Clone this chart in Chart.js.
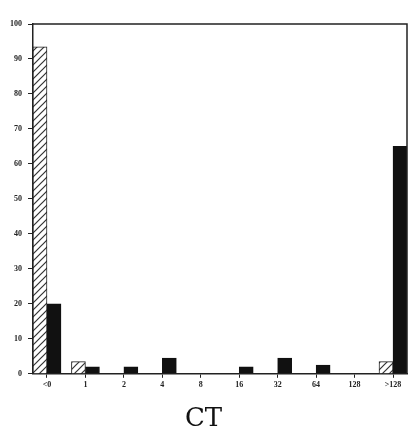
<!DOCTYPE html>
<html lang="en">
<head>
    <meta charset="UTF-8">
    <title>CT</title>
    <script src="https://cdn.jsdelivr.net/npm/chart.js"></script>
    <style>
        html, body { margin: 0; padding: 0; background: #fff; }
        .wrap { width: 417px; height: 437px; position: relative; }
    </style>
</head>
<body>
    <div class="wrap"><canvas id="ctChart"></canvas></div>

    <script>
        // datos
        const categories = ['<0', '1', '2', '4', '8', '16', '32', '64', '128', '>128'];
        const hatchedValues = [93.5, 3.5, 0, 0, 0, 0, 0, 0, 0, 3.5];
        const solidValues = [20, 2, 2, 4.5, 0, 2, 4.5, 2.5, 0, 65];
        const yTicks = [0, 10, 20, 30, 40, 50, 60, 70, 80, 90, 100];

        // patron rayado para la primera serie
        function makeHatch() {
            const c = document.createElement('canvas');
            c.width = 7;
            c.height = 7;
            const g = c.getContext('2d');
            g.fillStyle = '#fff';
            g.fillRect(0, 0, 7, 7);
            g.strokeStyle = '#333';
            g.lineWidth = 1.2;
            g.beginPath();
            g.moveTo(0, 7); g.lineTo(7, 0);
            g.moveTo(-2, 2); g.lineTo(2, -2);
            g.moveTo(5, 9); g.lineTo(9, 5);
            g.stroke();
            return g.createPattern(c, 'repeat');
        }

        // marco superior y derecho
        const framePlugin = {
            id: 'frame',
            afterDraw(chart) {
                const { ctx, chartArea } = chart;
                ctx.save();
                ctx.strokeStyle = '#222';
                ctx.lineWidth = 1.5;
                ctx.beginPath();
                ctx.moveTo(chartArea.left, chartArea.top);
                ctx.lineTo(chartArea.right, chartArea.top);
                ctx.lineTo(chartArea.right, chartArea.bottom);
                ctx.stroke();
                ctx.restore();
            }
        };

        const tickFont = { family: 'Liberation Serif', size: 8, weight: 'bold' };

        new Chart(document.getElementById('ctChart'), {
            type: 'bar',
            data: {
                datasets: [
                    {
                        data: hatchedValues.map((v, i) => ({ x: i, y: v })),
                        backgroundColor: makeHatch(),
                        borderColor: '#222',
                        borderWidth: 1,
                        barThickness: 14
                    },
                    {
                        data: solidValues.map((v, i) => ({ x: i, y: v })),
                        backgroundColor: '#111',
                        borderColor: '#111',
                        borderWidth: 1,
                        barThickness: 14
                    }
                ]
            },
            options: {
                responsive: true,
                maintainAspectRatio: false,
                animation: false,
                layout: { padding: { top: 24, right: 10, left: 0, bottom: 0 } },
                plugins: {
                    legend: { display: false },
                    tooltip: { enabled: false },
                    title: {
                        display: true,
                        position: 'bottom',
                        text: 'CT',
                        color: '#111',
                        font: { family: 'DejaVu Serif', size: 26, weight: 'normal' },
                        padding: { top: 8, bottom: 2 }
                    }
                },
                scales: {
                    x: {
                        type: 'linear',
                        offset: false,
                        min: -0.364,
                        max: categories.length - 1 + 0.364,
                        afterBuildTicks: (scale) => {
                            scale.ticks = categories.map((c, i) => ({ value: i }));
                        },
                        afterFit: (scale) => { scale.height = 22; },
                        ticks: {
                            color: '#222',
                            font: tickFont,
                            padding: 2,
                            maxRotation: 0,
                            autoSkip: false,
                            callback: (v) => categories[v]
                        },
                        grid: {
                            offset: false,
                            drawOnChartArea: false,
                            tickLength: 4,
                            color: '#222'
                        },
                        border: { color: '#222', width: 1.5 }
                    },
                    y: {
                        min: 0,
                        max: 100,
                        afterBuildTicks: (scale) => {
                            scale.ticks = yTicks.map(v => ({ value: v }));
                        },
                        afterFit: (scale) => { scale.width = 33; },
                        ticks: {
                            color: '#222',
                            font: tickFont,
                            padding: 6
                        },
                        grid: {
                            drawOnChartArea: false,
                            tickLength: 5,
                            color: '#222'
                        },
                        border: { color: '#222', width: 1.5 }
                    }
                }
            },
            plugins: [framePlugin]
        });
    </script>
</body>
</html>
